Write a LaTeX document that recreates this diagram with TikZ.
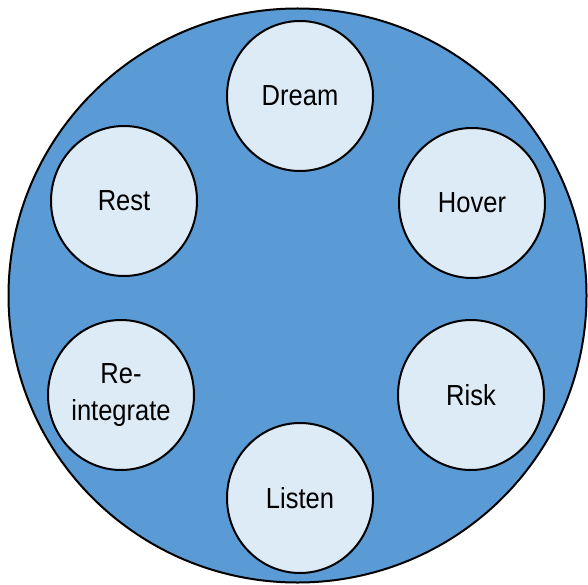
\documentclass[tikz,border=0pt]{standalone}
\usepackage{fontspec}
\setmainfont{Liberation Sans}[FakeStretch=0.88]
\usetikzlibrary{shapes.geometric}
\definecolor{outerblue}{HTML}{5B9BD5}
\definecolor{innerblue}{HTML}{DDEBF7}
\tikzset{
  outer/.style={ellipse, draw=black, line width=2pt, fill=outerblue, minimum width=578pt, minimum height=574pt, inner sep=0pt},
  phase/.style={ellipse, draw=black, line width=2pt, fill=innerblue, minimum width=146pt, minimum height=150pt, inner sep=0pt, align=center, font=\fontsize{29}{37}\selectfont},
}
\begin{document}
\begin{tikzpicture}[x=1pt,y=-1pt]
\useasboundingbox (0,0) rectangle (588,585);
\node[outer] (big) at (297.5,295.5) {};
\node[phase] (dream) at (300,96) {Dream};
\node[phase] (hover) at (472,203) {Hover};
\node[phase] (rest) at (124,201) {Rest};
\node[phase] (reint) at (121,395) {Re-\\integrate};
\node[phase] (risk) at (471,395) {Risk};
\node[phase] (listen) at (300,498) {Listen};
\end{tikzpicture}
\end{document}
